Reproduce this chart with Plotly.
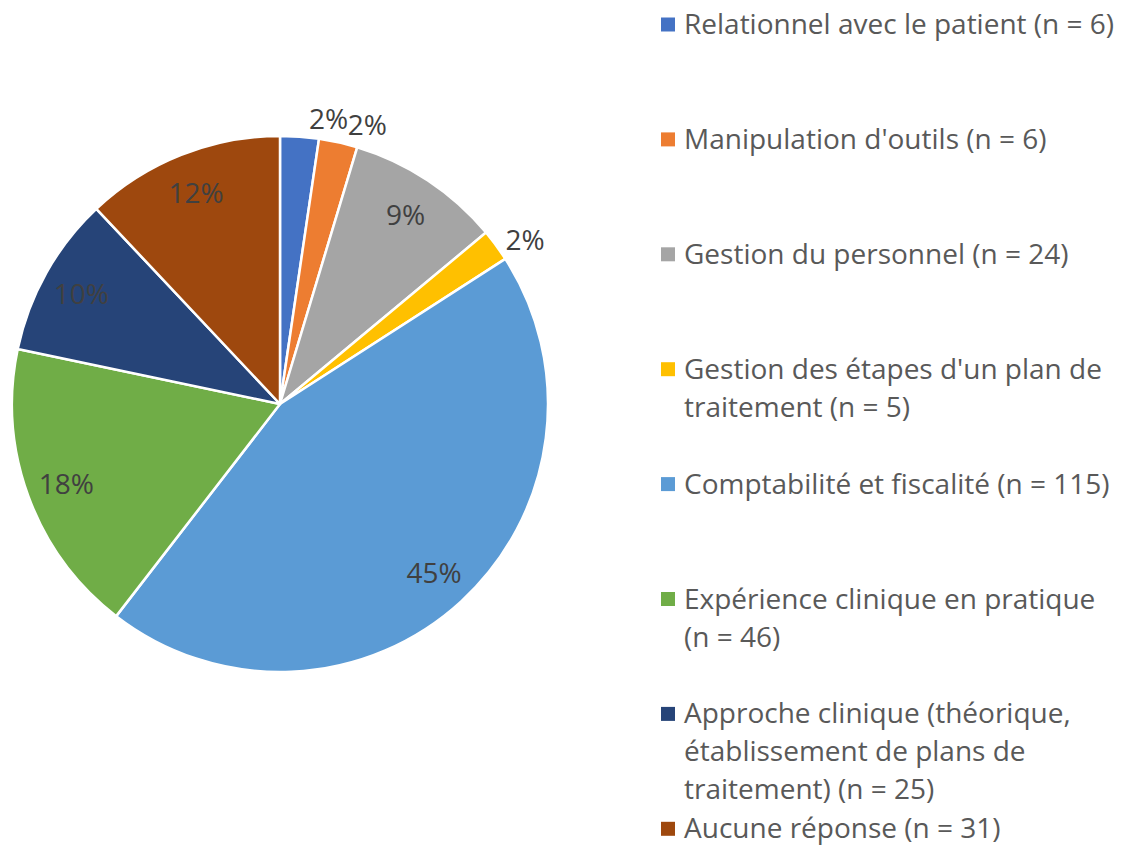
import plotly.graph_objects as go

categories = [
    "Relationnel avec le patient (n = 6)",
    "Manipulation d'outils (n = 6)",
    "Gestion du personnel (n = 24)",
    "Gestion des étapes d'un plan de<br>traitement (n = 5)",
    "Comptabilité et fiscalité (n = 115)",
    "Expérience clinique en pratique<br>(n = 46)",
    "Approche clinique (théorique,<br>établissement de plans de<br>traitement) (n = 25)",
    "Aucune réponse (n = 31)",
]
values = [6, 6, 24, 5, 115, 46, 25, 31]
colors = ["#4472C4", "#ED7D31", "#A5A5A5", "#FFC000",
          "#5B9BD5", "#70AD47", "#264478", "#9E480E"]
# label placement per slice (Excel: small slices outside, others inside end)
label_main = ["none", "outside", "none", "outside",
              "none", "none", "none", "none"]
label_ring = ["outside", "none", "inside", "none",
              "inside", "inside", "inside", "inside"]

W, H = 1129, 846
FONT = "Open Sans"
FS = 28

def px(x):
    return x / W

def py(y):
    return 1 - y / H

cx, cy, r = 280, 404, 268
domain = dict(x=[px(cx - r), px(cx + r)], y=[py(cy + r), py(cy - r)])
labels = [c.replace("<br>", " ") for c in categories]
tfont = dict(family=FONT, size=FS, color="#404040")

fig = go.Figure()
# Coloured pie
fig.add_trace(go.Pie(
    labels=labels, values=values, sort=False, direction="clockwise", rotation=0,
    marker=dict(colors=colors, line=dict(color="white", width=2.5)),
    texttemplate="%{percent:.0%}", textposition=label_main,
    insidetextorientation="horizontal",
    textfont=tfont, outsidetextfont=tfont,
    domain=domain, showlegend=False, hoverinfo="label+percent",
))
# Transparent ring carrying the "inside end" labels
fig.add_trace(go.Pie(
    labels=labels, values=values, sort=False, direction="clockwise", rotation=0,
    hole=0.7,
    marker=dict(colors=["rgba(0,0,0,0)"] * len(values), line=dict(width=0)),
    texttemplate="%{percent:.0%}", textposition=label_ring,
    insidetextorientation="horizontal",
    textfont=tfont, insidetextfont=tfont, outsidetextfont=tfont,
    domain=domain, showlegend=False, hoverinfo="skip",
))

# Custom legend (Excel-style spacing)
annotations = []
shapes = []
item_top = 24.5
item_step = 114.9
line_step = 38
for i, (cat, col) in enumerate(zip(categories, colors)):
    yc = item_top + i * item_step
    shapes.append(dict(type="rect", xref="paper", yref="paper",
                       x0=px(661), x1=px(675), y0=py(yc + 7), y1=py(yc - 7),
                       fillcolor=col, line=dict(width=0)))
    for j, line in enumerate(cat.split("<br>")):
        annotations.append(dict(
            text=line, xref="paper", yref="paper",
            x=px(683), y=py(yc + j * line_step - 1.5),
            xanchor="left", yanchor="middle", showarrow=False, borderpad=0,
            font=dict(family=FONT, size=FS, color="#595959"),
        ))

fig.update_layout(
    width=W, height=H,
    margin=dict(l=0, r=0, t=0, b=0),
    paper_bgcolor="white",
    plot_bgcolor="white",
    annotations=annotations,
    shapes=shapes,
)

fig.write_html(
    "out.html",
    config={"displayModeBar": False},
    post_script="document.body.style.margin='0';document.body.style.overflow='hidden';",
)
